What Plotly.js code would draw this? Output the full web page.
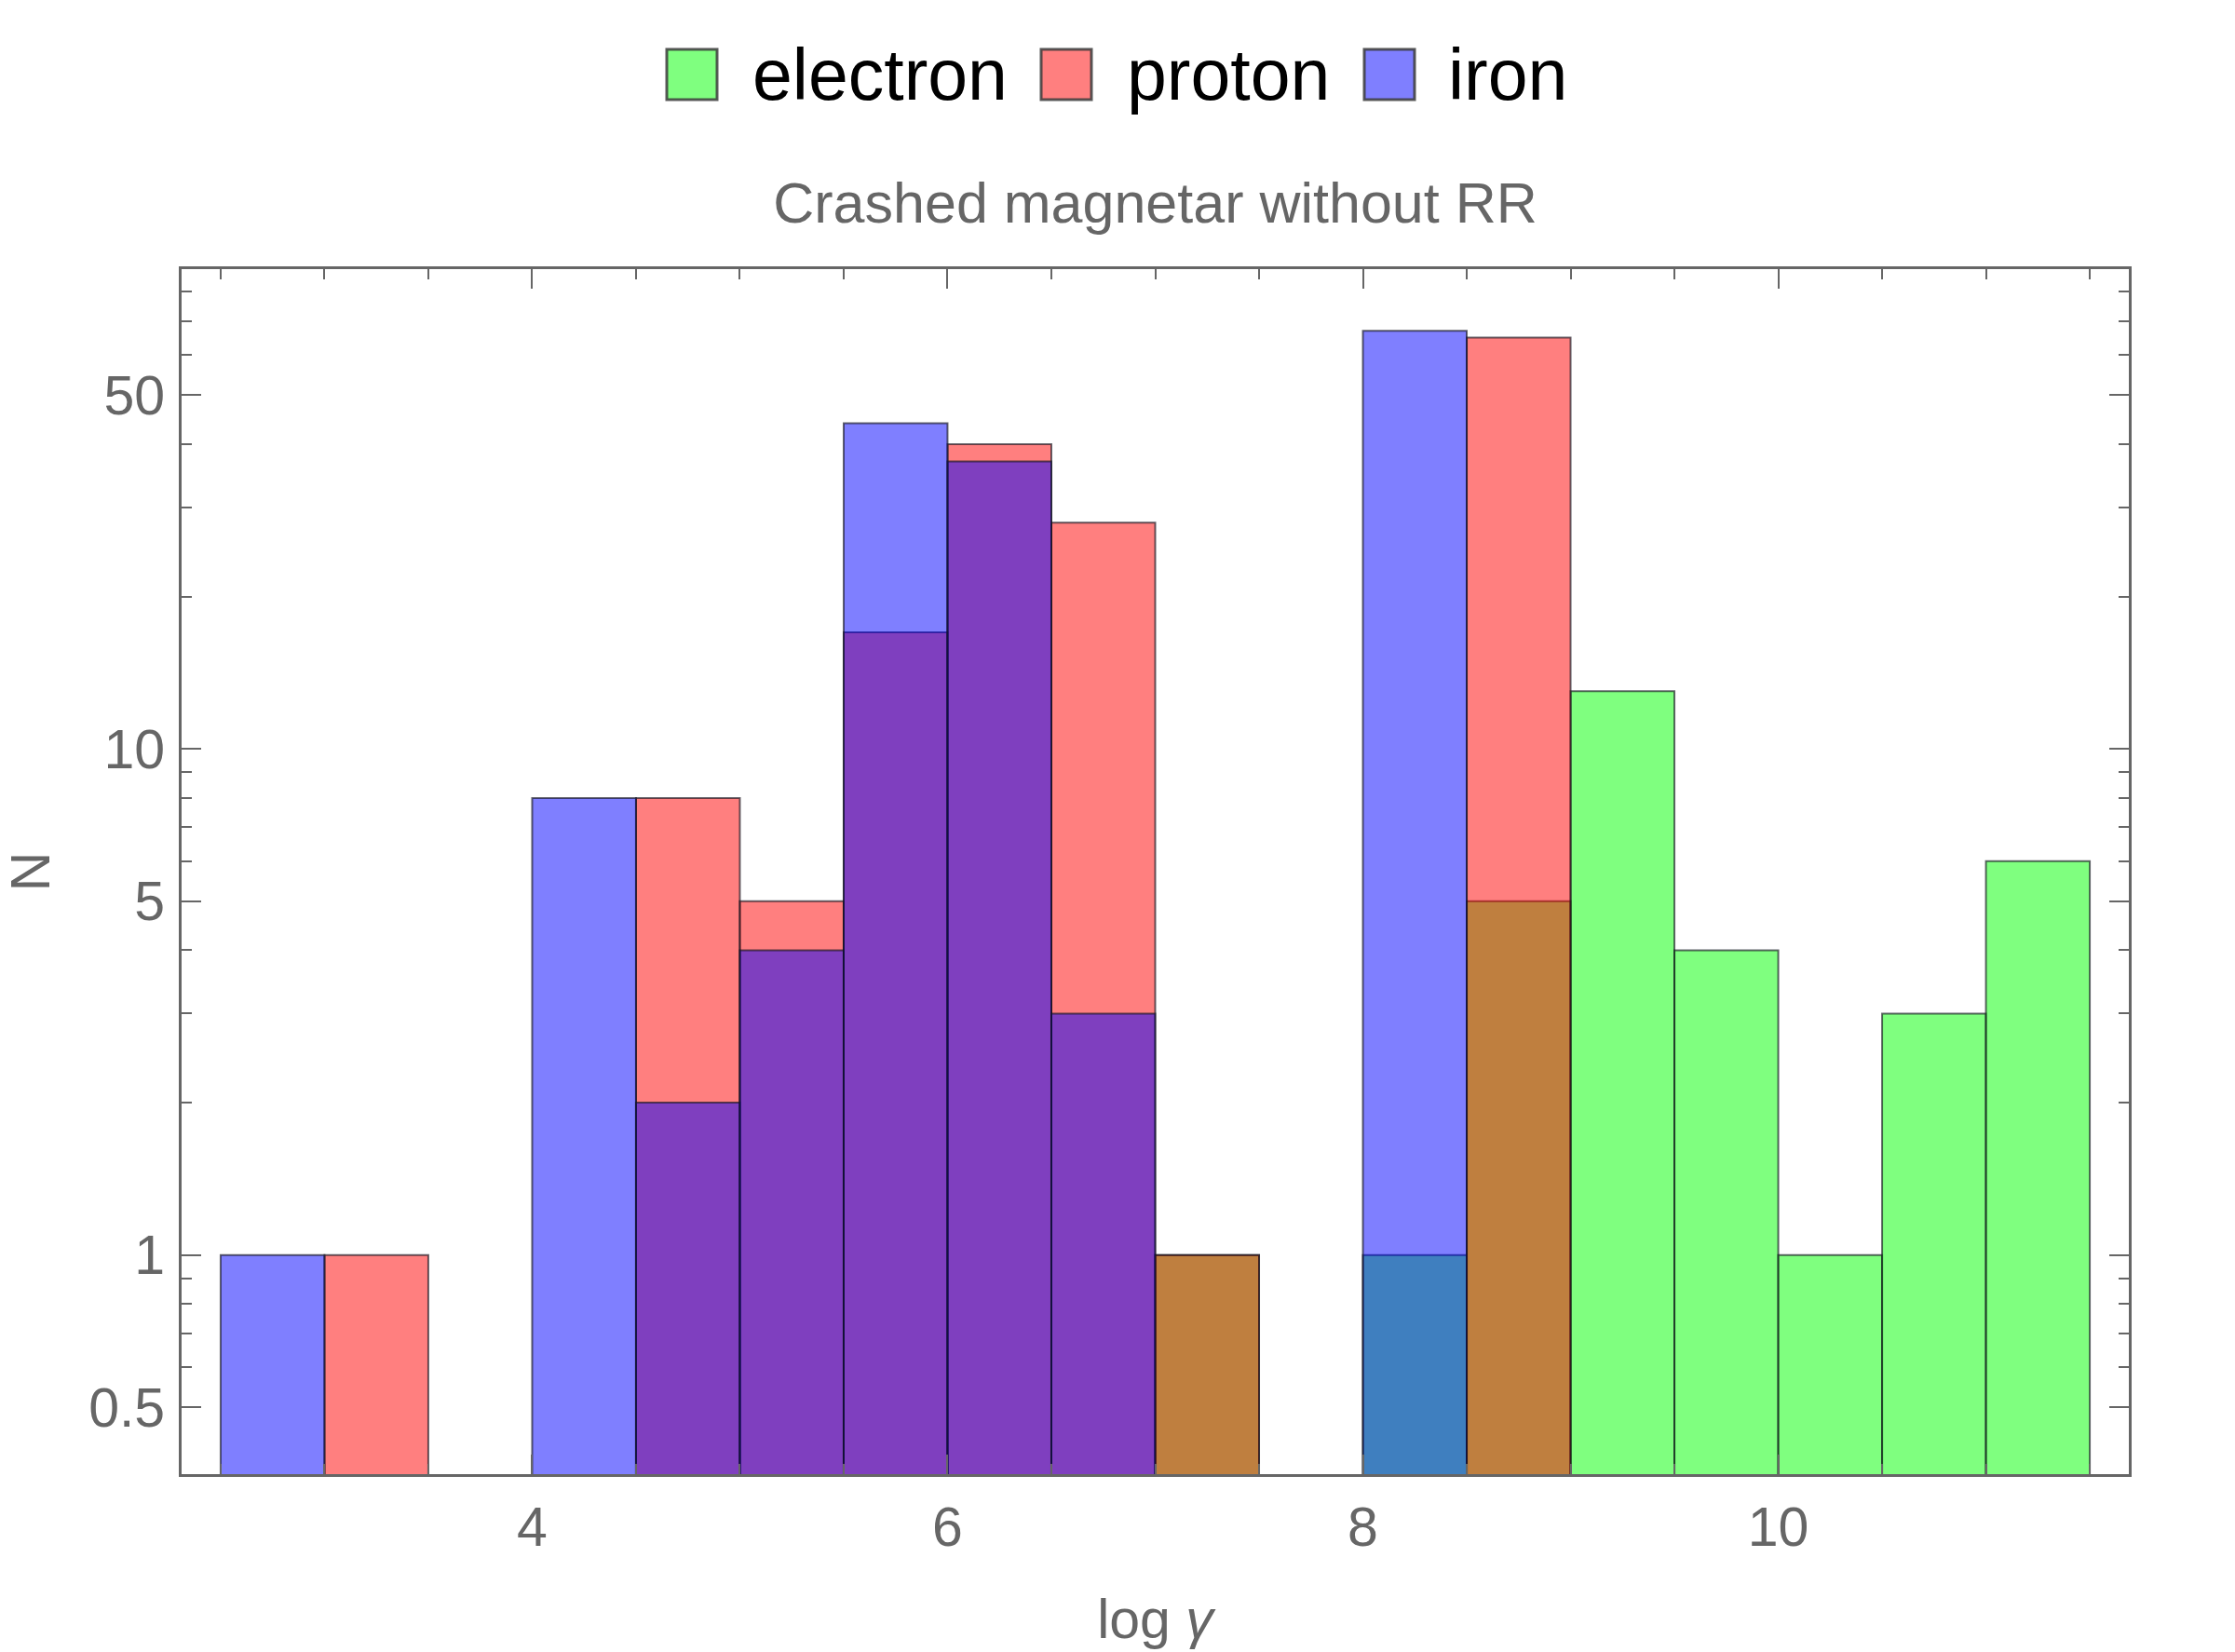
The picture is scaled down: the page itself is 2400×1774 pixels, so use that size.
<!DOCTYPE html>
<html>
<head>
<meta charset="utf-8">
<script src="https://cdn.plot.ly/plotly-3.0.1.min.js"></script>
<style>html,body{margin:0;padding:0;background:#fff;}#chart{width:2400px;height:1774px;}</style>
</head>
<body>
<div id="chart"></div>
<script>
// ---- data (bin centres of width-0.5 bins, counts) ----
const seriesNames = ['electron', 'proton', 'iron'];
const fillColors = ['rgba(0,255,0,0.5)', 'rgba(255,0,0,0.5)', 'rgba(0,0,255,0.5)'];
const binWidth = 0.5;
const electronX = [7.25, 8.25, 8.75, 9.25, 9.75, 10.25, 10.75, 11.25];
const electronN = [1, 1, 5, 13, 4, 1, 3, 6];
const protonX = [3.25, 4.75, 5.25, 5.75, 6.25, 6.75, 7.25, 8.75];
const protonN = [1, 8, 5, 17, 40, 28, 1, 65];
const ironX = [2.75, 4.25, 4.75, 5.25, 5.75, 6.25, 6.75, 8.25];
const ironN = [1, 8, 2, 4, 44, 37, 3, 67];
const xTickVals = [4, 6, 8, 10];
const yTickVals = [0.5, 1, 5, 10, 50];
const yTickText = ['0.5', '1', '5', '10', '50'];
const yMinorVals = [0.6, 0.7, 0.8, 0.9, 2, 3, 4, 6, 7, 8, 9, 20, 30, 40, 60, 70, 80];
const titleText = 'Crashed magnetar without RR';
const xTitle = 'log <i>γ</i>';
const yTitle = 'N';

const xRange = [2.312, 11.688];
const yRange = [-0.433, 1.948]; // log10 units
const barBase = 1e-6; // far below the visible range, so bars start at the frame

const xs = [electronX, protonX, ironX];
const ns = [electronN, protonN, ironN];

const W = 2400, H = 1774;
const M = {l: 195, r: 114, t: 289, b: 191};
const pw = W - M.l - M.r, ph = H - M.t - M.b;
const px2x = p => (p - M.l) / pw;
const px2y = p => (H - M.b - p) / ph;

const FONT = 'Liberation Sans, Arial, Helvetica, sans-serif';
const GRAY = '#666666';

const traces = seriesNames.map((name, i) => ({
  type: 'bar',
  name: name,
  x: xs[i],
  y: ns[i],
  base: barBase,
  width: binWidth,
  marker: {color: fillColors[i], line: {color: 'rgba(20,20,30,0.65)', width: 2}},
  showlegend: false,
  hoverinfo: 'x+y+name'
}));

// custom legend (large swatches as in the original)
const legendSwatchX = [716, 1118, 1465];
const legendTextX = [806, 1208, 1553];
const shapes = [];
const annotations = [];
seriesNames.forEach((name, i) => {
  shapes.push({
    type: 'rect', xref: 'paper', yref: 'paper',
    x0: px2x(legendSwatchX[i]), x1: px2x(legendSwatchX[i] + 54),
    y0: px2y(107), y1: px2y(53),
    fillcolor: fillColors[i], line: {color: 'rgba(60,60,60,0.85)', width: 3}
  });
  annotations.push({
    xref: 'paper', yref: 'paper', x: px2x(legendTextX[i]), y: px2y(80),
    xanchor: 'left', yanchor: 'middle', showarrow: false, text: name,
    font: {family: FONT, size: 77, color: '#000'}
  });
});

const layout = {
  width: W, height: H,
  margin: M,
  paper_bgcolor: '#fff', plot_bgcolor: '#fff',
  barmode: 'overlay',
  bargap: 0,
  font: {family: FONT, color: GRAY, size: 59},
  title: {
    text: titleText, font: {family: FONT, size: 61, color: GRAY},
    xref: 'paper', x: 0.5, xanchor: 'center',
    yref: 'container', y: 1 - 218 / H, yanchor: 'middle'
  },
  xaxis: {
    range: xRange,
    tickmode: 'array', tickvals: xTickVals,
    ticks: 'inside', ticklen: 21, tickwidth: 2, tickcolor: GRAY,
    minor: {tickmode: 'linear', tick0: 0, dtick: 0.5, ticks: 'inside', ticklen: 11, tickwidth: 2, tickcolor: GRAY},
    showline: true, linecolor: GRAY, linewidth: 3, mirror: 'allticks',
    showgrid: false, zeroline: false,
    tickfont: {family: FONT, size: 59, color: GRAY},
    ticklabelstandoff: 3,
    title: {text: xTitle, font: {family: FONT, size: 59, color: GRAY}, standoff: 46}
  },
  yaxis: {
    type: 'log',
    range: yRange,
    tickmode: 'array', tickvals: yTickVals, ticktext: yTickText,
    ticks: 'inside', ticklen: 21, tickwidth: 2, tickcolor: GRAY,
    minor: {tickmode: 'array', tickvals: yMinorVals, ticks: 'inside', ticklen: 11, tickwidth: 2, tickcolor: GRAY},
    showline: true, linecolor: GRAY, linewidth: 3, mirror: 'allticks',
    showgrid: false, zeroline: false,
    tickfont: {family: FONT, size: 59, color: GRAY},
    ticklabelstandoff: 3,
    title: {text: yTitle, font: {family: FONT, size: 59, color: GRAY}, standoff: 39}
  },
  shapes: shapes,
  annotations: annotations
};

Plotly.newPlot('chart', traces, layout, {staticPlot: true, displayModeBar: false});
</script>
</body>
</html>
